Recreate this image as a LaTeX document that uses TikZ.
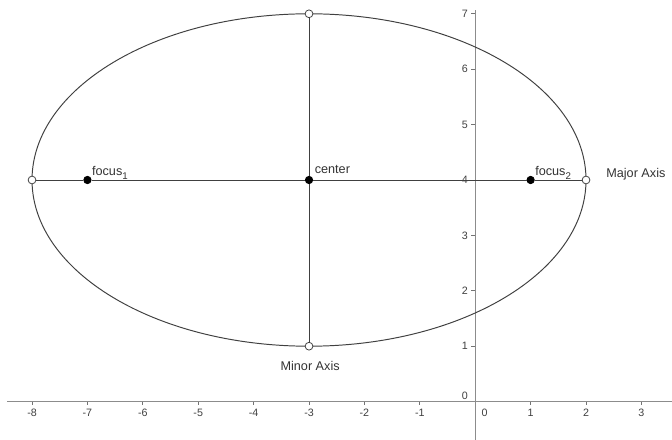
\documentclass[tikz,border=0pt]{standalone}
\usepackage{fontspec}
\setmainfont{Liberation Sans}
\newcommand{\lowsub}[1]{\raisebox{-2.2pt}{\fontsize{5}{5}\selectfont #1}}
\begin{document}
\begin{tikzpicture}[x=1cm,y=1cm,
  axisline/.style={draw=black!45, line width=0.7pt},
  tick/.style={draw=black!55, line width=0.5pt},
  ticklabel/.style={font=\fontsize{5.5}{6}\selectfont, text=black!75, inner sep=0.5pt},
  lbl/.style={font=\fontsize{6.5}{7}\selectfont, text=black!80, inner sep=0.5pt},
  curve/.style={draw=black!75, line width=0.5pt},
  filled/.style={circle, fill=black, draw=black, inner sep=0pt, minimum size=3.8pt},
  hollow/.style={circle, fill=white, draw=black!75, line width=0.4pt, inner sep=0pt, minimum size=4pt}]
\useasboundingbox (-8.578,-0.693) rectangle (3.552,7.249);
% axes
\coordinate (xl) at (-8.45,0);
\coordinate (xr) at (3.552,0);
\coordinate (yb) at (0,-0.693);
\coordinate (yt) at (0,7.07);
\draw[axisline] (xl) -- (xr);
\draw[axisline] (yb) -- (yt);
\foreach \i in {-8,-7,-6,-5,-4,-3,-2,-1,1,2,3} {
  \draw[tick] (\i,0) -- (\i,-0.07);
  \node[ticklabel] (xt\i) at (\i,-0.21) {\i};
}
\node[ticklabel] (xt0) at (0.17,-0.21) {0};
\foreach \j in {1,...,7} {
  \draw[tick] (0,\j) -- (-0.07,\j);
  \node[ticklabel, anchor=east] (yt\j) at (-0.11,\j) {\j};
}
\node[ticklabel, anchor=east] (yt0) at (-0.11,0.11) {0};
% ellipse
\draw[curve] (-3,4) ellipse [x radius=5, y radius=3];
% points
\node[filled] (c) at (-3,4) {};
\node[filled] (f1) at (-7,4) {};
\node[filled] (f2) at (1,4) {};
\node[hollow] (l) at (-8,4) {};
\node[hollow] (r) at (2,4) {};
\node[hollow] (t) at (-3,7) {};
\node[hollow] (b) at (-3,1) {};
% axes of ellipse
\draw[curve] (l) -- (f1) -- (c) -- (f2) -- (r);
\draw[curve] (b) -- (c) -- (t);
% labels
\node[lbl, anchor=base west] (lf1) at (-6.94,4.09) {focus\lowsub{1}};
\node[lbl, anchor=base west] (lc) at (-2.92,4.11) {center};
\node[lbl, anchor=base west] (lf2) at (1.06,4.09) {focus\lowsub{2}};
\node[lbl] (maj) at (2.90,4.11) {Major Axis};
\node[lbl] (min) at (-2.98,0.64) {Minor Axis};
\end{tikzpicture}
\end{document}
